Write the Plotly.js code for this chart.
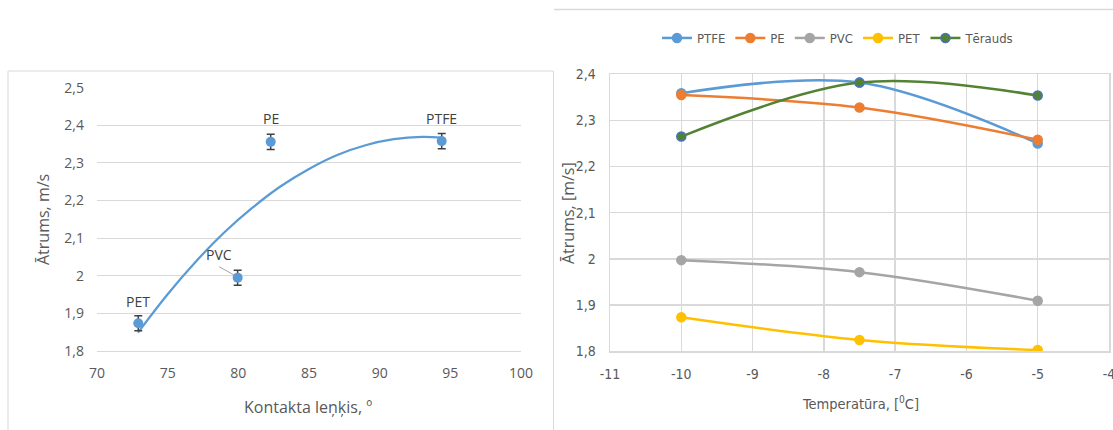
<!DOCTYPE html>
<html><head><meta charset="utf-8">
<script src="https://cdn.plot.ly/plotly-3.0.1.min.js"></script>
<style>html,body{margin:0;padding:0;background:#fff;}#chart{width:1113px;height:430px;}</style>
</head><body><div id="chart"></div>
<script>
// ---- Left chart: speed vs contact angle ----
const materials = ["PET", "PVC", "PE", "PTFE"];
const contactAngle = [72.92, 79.95, 82.29, 94.39];
const speedByAngle = [1.874, 1.995, 2.356, 2.358];
const speedError = [0.02, 0.02, 0.02, 0.02];
const trendAngle = [72.9, 75, 77, 79, 81, 83, 85, 87, 89, 91, 93, 94.4];
const trendSpeed = [1.849, 1.951, 2.038, 2.115, 2.181, 2.238, 2.284, 2.321, 2.347, 2.363, 2.369, 2.367];
const leftXTicks = [70, 75, 80, 85, 90, 95, 100];
const leftXTickText = ["70", "75", "80", "85", "90", "95", "100"];
const leftYTicks = [1.8, 1.9, 2.0, 2.1, 2.2, 2.3, 2.4, 2.5];
const leftYTickText = ["1,8", "1,9", "2", "2,1", "2,2", "2,3", "2,4", "2,5"];
const labelShiftX = [0, -19, 0, 0];
const labelShiftY = [22, 23, 23, 23];
const pvcLeaderX = [78.65, 79.69];
const pvcLeaderY = [2.024, 2.002];

// ---- Right chart: speed vs temperature ----
const temperatures = [-10, -7.5, -5];
const seriesNames = ["PTFE", "PE", "PVC", "PET", "Tērauds"];
const ptfe = [2.359, 2.382, 2.250];
const pe = [2.355, 2.328, 2.258];
const pvc = [1.997, 1.971, 1.909];
const pet = [1.873, 1.824, 1.802];
const terauds = [2.265, 2.382, 2.354];
const rightXTicks = [-11, -10, -9, -8, -7, -6, -5, -4];
const rightXTickText = ["-11", "-10", "-9", "-8", "-7", "-6", "-5", "-4"];
const rightYTicks = [1.8, 1.9, 2.0, 2.1, 2.2, 2.3, 2.4];
const rightYTickText = ["1,8", "1,9", "2", "2,1", "2,2", "2,3", "2,4"];

const W = 1113, H = 430;
const px = v => v / W;
const py = v => (H - v) / H;

const leftFont = "Open Sans, sans-serif";
const narrowFont = "Liberation Sans Narrow, DejaVu Sans Condensed, sans-serif";
const grey = "#595959";
const grid = "#D9D9D9";

const seriesValues = [ptfe, pe, pvc, pet, terauds];
const lineColors = ["#5B9BD5", "#ED7D31", "#A5A5A5", "#FFC000", "#548235"];
const markerLines = ["#5B9BD5", "#ED7D31", "#A5A5A5", "#FFC000", "#4472C4"];

const traces = [
  {
    x: trendAngle, y: trendSpeed, xaxis: "x", yaxis: "y", type: "scatter", mode: "lines",
    line: {color: "#5B9BD5", width: 2.25, shape: "spline"}, showlegend: false, hoverinfo: "skip"
  },
  {
    x: contactAngle, y: speedByAngle, xaxis: "x", yaxis: "y", type: "scatter", mode: "markers",
    marker: {color: "#5B9BD5", size: 10},
    error_y: {type: "data", array: speedError, visible: true, color: "#404040", thickness: 1.5, width: 4},
    showlegend: false, text: materials
  }
];
seriesNames.forEach((name, i) => {
  traces.push({
    x: temperatures, y: seriesValues[i], xaxis: "x2", yaxis: "y2", type: "scatter",
    mode: "lines+markers", name: name,
    line: {color: lineColors[i], width: 2.5, shape: "spline", smoothing: 1},
    marker: {color: lineColors[i], size: 9, line: {color: markerLines[i], width: 1.5}}
  });
});

const annotations = materials.map((m, i) => ({
  x: contactAngle[i], y: speedByAngle[i], xref: "x", yref: "y", text: m, showarrow: false,
  xshift: labelShiftX[i], yshift: labelShiftY[i], xanchor: "center", yanchor: "middle",
  font: {family: leftFont, size: 14, color: "#404040"}
}));
annotations.push(
  {x: px(43), y: py(220), xref: "paper", yref: "paper", text: "Ātrums, m/s", textangle: -90, showarrow: false,
   xanchor: "center", yanchor: "middle", font: {family: leftFont, size: 16, color: grey}},
  {x: px(308), y: py(407), xref: "paper", yref: "paper", text: "Kontakta leņķis, º", showarrow: false,
   xanchor: "center", yanchor: "middle", font: {family: leftFont, size: 16, color: grey}},
  {x: px(568), y: py(213), xref: "paper", yref: "paper", text: "Ātrums, [m/s]", textangle: -90, showarrow: false,
   xanchor: "center", yanchor: "middle", font: {family: leftFont, size: 16, color: grey}},
  {x: px(860), y: py(403), xref: "paper", yref: "paper", text: "Temperatūra, [<sup>0</sup>C]", showarrow: false,
   xanchor: "center", yanchor: "middle", font: {family: narrowFont, size: 14.5, color: grey}}
);

const shapes = [
  {type: "rect", xref: "paper", yref: "paper", x0: px(8), x1: px(553.5), y0: -0.1, y1: py(71),
   line: {color: grid, width: 1}, fillcolor: "rgba(0,0,0,0)", layer: "below"},
  {type: "line", xref: "paper", yref: "paper", x0: px(554), x1: 1.02, y0: py(9.5), y1: py(9.5),
   line: {color: grid, width: 1.5}},
  {type: "line", xref: "x", yref: "y", x0: pvcLeaderX[0], x1: pvcLeaderX[1], y0: pvcLeaderY[0], y1: pvcLeaderY[1],
   line: {color: "#A6A6A6", width: 1}}
];

const layout = {
  width: W, height: H,
  margin: {l: 0, r: 0, t: 0, b: 0, pad: 0},
  paper_bgcolor: "#fff", plot_bgcolor: "rgba(0,0,0,0)",
  showlegend: true,
  legend: {orientation: "h", x: px(838), xanchor: "center", y: py(38), yanchor: "middle",
           font: {family: narrowFont, size: 13, color: grey}, bgcolor: "rgba(0,0,0,0)"},
  xaxis: {domain: [px(97), px(521)], range: [70, 100], tickvals: leftXTicks, ticktext: leftXTickText,
          showgrid: false, zeroline: false, showline: true, linecolor: grid, linewidth: 1, ticks: "",
          ticklabelstandoff: 9, tickfont: {family: leftFont, size: 14, color: grey}, anchor: "y", fixedrange: true},
  yaxis: {domain: [py(351), py(87.7)], range: [1.8, 2.5], tickvals: leftYTicks, ticktext: leftYTickText,
          showgrid: true, gridcolor: grid, gridwidth: 1, zeroline: false, showline: false, ticks: "",
          ticklabelstandoff: 12, tickfont: {family: leftFont, size: 14, color: grey}, anchor: "x", fixedrange: true},
  xaxis2: {domain: [px(610), px(1109)], range: [-11, -4], tickvals: rightXTicks, ticktext: rightXTickText,
           showgrid: true, gridcolor: grid, gridwidth: 1.5, zeroline: false, showline: true, mirror: true,
           linecolor: grid, linewidth: 1.5, ticks: "", ticklabelstandoff: 10, ticklabeloverflow: "allow",
           tickfont: {family: narrowFont, size: 14, color: grey}, anchor: "y2", fixedrange: true},
  yaxis2: {domain: [py(351), py(74.3)], range: [1.8, 2.4], tickvals: rightYTicks, ticktext: rightYTickText,
           showgrid: true, gridcolor: grid, gridwidth: 1.5, zeroline: false, showline: true, mirror: true,
           linecolor: grid, linewidth: 1.5, ticks: "", ticklabelstandoff: 10,
           tickfont: {family: narrowFont, size: 14, color: grey}, anchor: "x2", fixedrange: true},
  annotations: annotations,
  shapes: shapes
};

Plotly.newPlot("chart", traces, layout, {displayModeBar: false, staticPlot: true});
</script>
</body></html>
